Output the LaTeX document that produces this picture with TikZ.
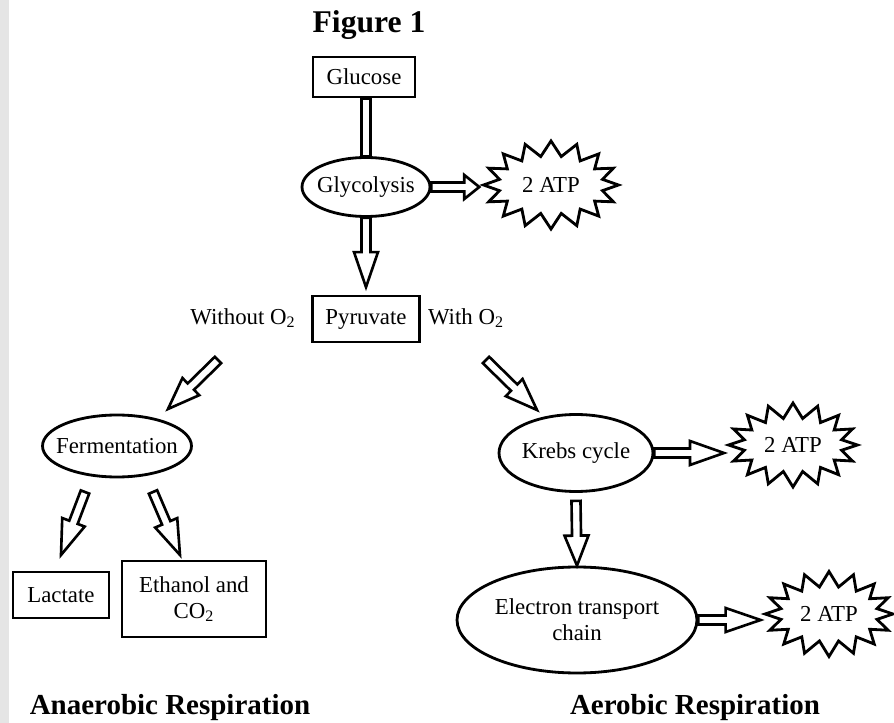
\documentclass[tikz,border=0pt]{standalone}
\usepackage{fontspec}
\setmainfont{Liberation Serif}
\usepackage{tikz}
\usetikzlibrary{calc,shapes.geometric,shapes.symbols}

\tikzset{
  box/.style={draw, line width=1.6pt, inner sep=0pt, align=center, font=\fontsize{13}{15}\selectfont},
  oval/.style={ellipse, draw, line width=1.6pt, inner xsep=-0.21cm, inner ysep=0pt, align=center, font=\fontsize{13}{15}\selectfont},
  burst/.style={starburst, starburst points=16, starburst point height=0.3cm, random starburst=0,
    draw, line width=1.6pt, inner sep=0pt, font=\fontsize{13}{15}\selectfont},
  fatline/.style={draw, line width=1.5pt, fill=white, line join=miter},
  side/.style={font=\fontsize{13}{15}\selectfont},
  heading/.style={font=\fontsize{16.5}{19}\bfseries}
}

% hollow block arrow from #2 to #3, head length #1
\newcommand{\fatarrow}[3][0.64cm]{%
  \draw[fatline] ($(#2)!0.09cm!90:(#3)$)
    -- ($(#3)!#1!(#2)!0.09cm!-90:(#2)$)
    -- ($(#3)!#1!(#2)!0.24cm!-90:(#2)$)
    -- (#3)
    -- ($(#3)!#1!(#2)!0.24cm!90:(#2)$)
    -- ($(#3)!#1!(#2)!0.09cm!90:(#2)$)
    -- ($(#2)!0.09cm!-90:(#3)$) -- cycle;}
% hollow bar without head
\newcommand{\fatbar}[2]{%
  \draw[fatline] ($(#1)!0.09cm!90:(#2)$) -- ($(#2)!0.09cm!-90:(#1)$)
    -- ($(#2)!0.09cm!90:(#1)$) -- ($(#1)!0.09cm!-90:(#2)$) -- cycle;}

\begin{document}
\begin{tikzpicture}[x=0.02cm, y=-0.02cm]
  \useasboundingbox (0,0) rectangle (894,723);
  \fill[black!10] (0,0) rectangle (9,723);

  % title
  \node[font=\fontsize{18}{21}\bfseries] (title) at (369,25) {Figure 1};

  % Glucose, Glycolysis
  \node[box, minimum width=2.04cm, minimum height=0.8cm] (glucose) at (364,77) {Glucose};
  \node[oval, minimum width=2.56cm, minimum height=1.18cm] (glyco) at (366,187) {Glycolysis};
  \node[burst, minimum width=2.7cm, minimum height=1.76cm] (atp1) at (551,185) {2 ATP};
  \coordinate (glytop) at (glucose.south -| glyco.north);
  \coordinate (atp1in) at (glyco.east -| atp1.west);
  \fatbar{glytop}{glyco.north}
  \fatarrow[0.3cm]{glyco.east}{atp1in}

  % Pyruvate
  \node[box, minimum width=2.14cm, minimum height=0.92cm] (pyr) at (366,319) {Pyruvate};
  \node[side] (noox) at (243,318) {Without O\textsubscript{2}};
  \node[side] (withox) at (466,318) {With O\textsubscript{2}};
  \coordinate (pyrin) at ([yshift=0.15cm]pyr.north);
  \fatarrow[0.7cm]{glyco.south}{pyrin}

  % anaerobic side
  \node[oval, minimum width=2.98cm, minimum height=1.24cm] (ferm) at (117,446) {Fermentation};
  \node[box, minimum width=1.92cm, minimum height=0.92cm] (lactate) at (61,595) {Lactate};
  \node[box, minimum width=2.88cm, minimum height=1.52cm] (ethanol) at (194,599) {Ethanol and\\CO\textsubscript{2}};
  \coordinate (noout) at (218,360);
  \coordinate (fermin) at (168,409);
  \coordinate (lacout) at (85,492);
  \coordinate (lacin) at (61,555);
  \coordinate (ethout) at (153,492);
  \coordinate (ethin) at (180,555);
  \fatarrow{noout}{fermin}
  \fatarrow[0.7cm]{lacout}{lacin}
  \fatarrow[0.7cm]{ethout}{ethin}
  \node[heading] (anaero) at (170,708) {Anaerobic Respiration};

  % aerobic side
  \node[oval, minimum width=3.08cm, minimum height=1.54cm] (krebs) at (576,453) {Krebs cycle};
  \node[burst, minimum width=2.58cm, minimum height=1.68cm] (atp2) at (793,445) {2 ATP};
  \node[oval, minimum width=4.8cm, minimum height=2.12cm] (etc) at (577,620) {Electron transport\\chain};
  \node[burst, minimum width=2.56cm, minimum height=1.7cm] (atp3) at (829,614) {2 ATP};
  \coordinate (without) at (486,360);
  \coordinate (krebsin) at (537,410);
  \coordinate (atp2in) at (krebs.east -| atp2.west);
  \coordinate (krebsout) at ([yshift=-0.16cm]krebs.south);
  \coordinate (atp3in) at (etc.east -| atp3.west);
  \fatarrow{without}{krebsin}
  \fatarrow[0.68cm]{krebs.east}{atp2in}
  \fatarrow[0.6cm]{krebsout}{etc.north}
  \fatarrow[0.7cm]{etc.east}{atp3in}
  \node[heading] (aero) at (695,708) {Aerobic Respiration};
\end{tikzpicture}
\end{document}
